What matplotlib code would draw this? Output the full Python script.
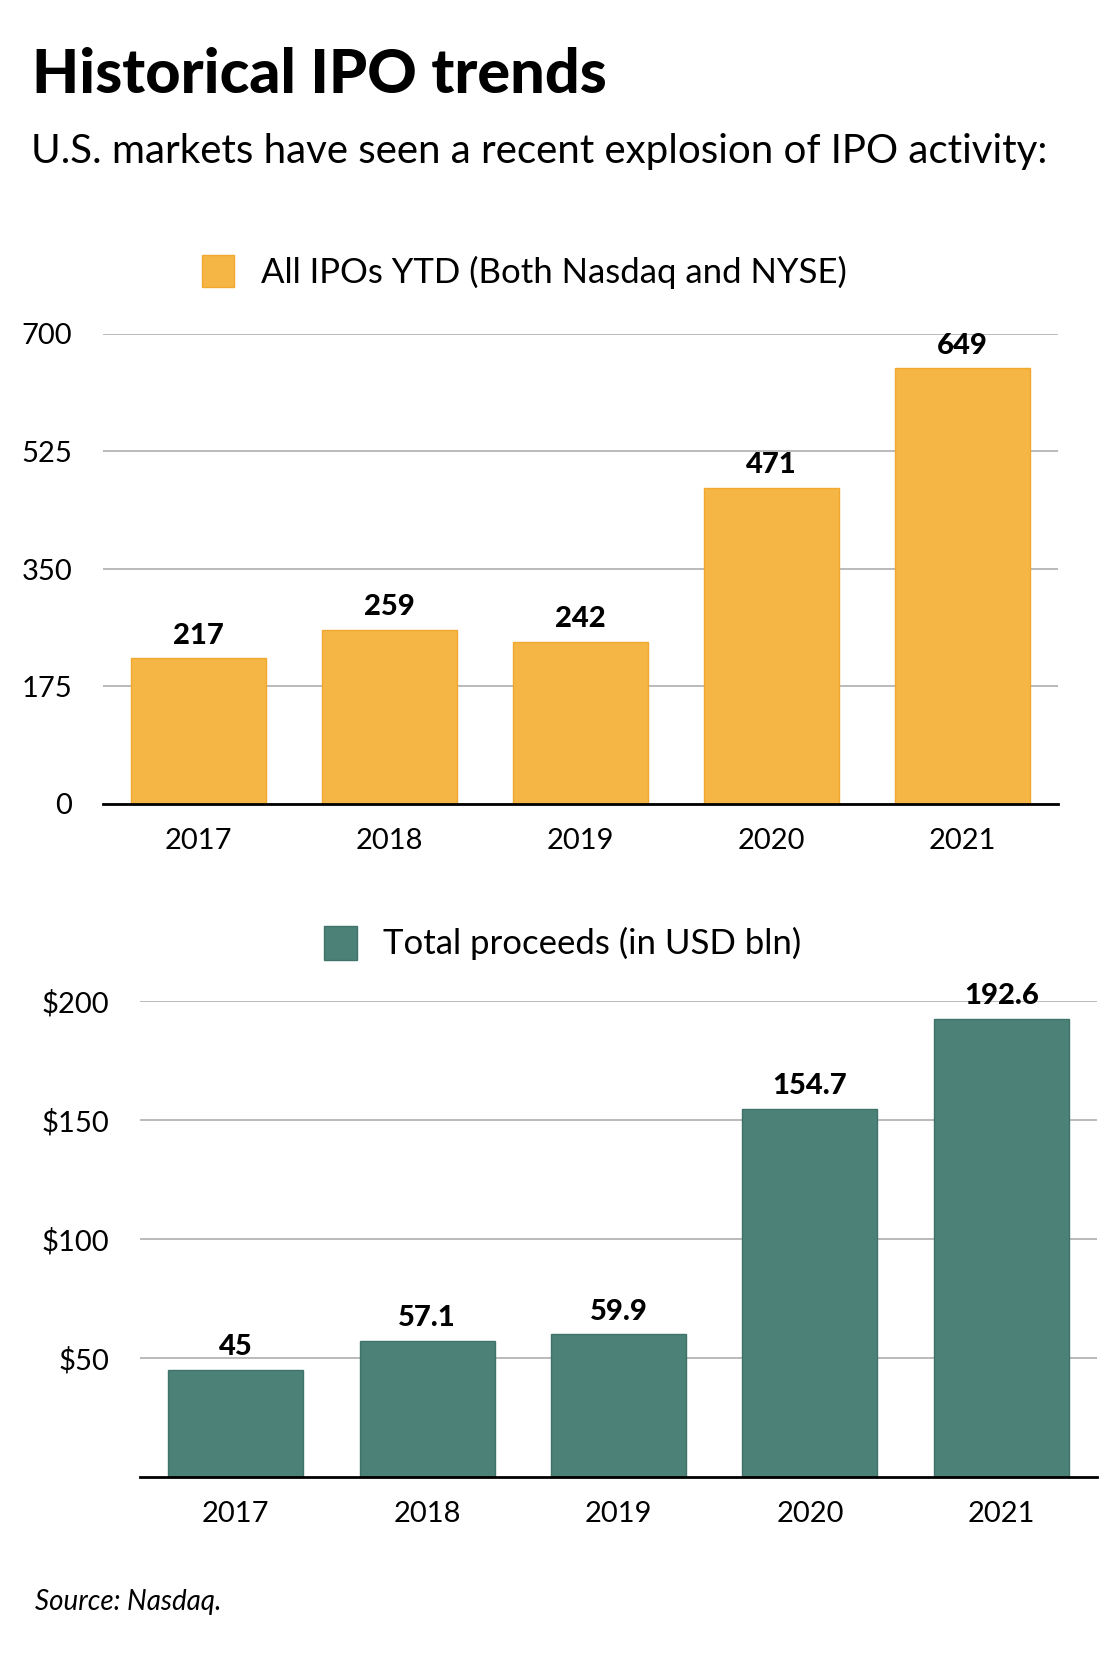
import matplotlib
matplotlib.use("Agg")
import matplotlib.pyplot as plt
from matplotlib.patches import Rectangle

plt.rcParams['font.family'] = ['Lato', 'DejaVu Sans']

years = ["2017", "2018", "2019", "2020", "2021"]
ipo_counts = [217, 259, 242, 471, 649]
proceeds = [45, 57.1, 59.9, 154.7, 192.6]
ipo_labels = ["217", "259", "242", "471", "649"]
proceeds_labels = ["45", "57.1", "59.9", "154.7", "192.6"]
top_ticks = [0, 175, 350, 525, 700]
bottom_ticks = [50, 100, 150, 200]
bottom_tick_labels = ["$50", "$100", "$150", "$200"]
title = "Historical IPO trends"
subtitle = "U.S. markets have seen a recent explosion of IPO activity:"
legend_top = "All IPOs YTD (Both Nasdaq and NYSE)"
legend_bottom = "Total proceeds (in USD bln)"
source = "Source: Nasdaq."

ORANGE = "#F6B646"
ORANGE_EDGE = "#F0A92E"
TEAL = "#4B8177"
TEAL_EDGE = "#3F7369"
GRID = "#B4B4B4"

W, H = 1120, 1667
fig = plt.figure(figsize=(W / 100, H / 100), dpi=100)


def fx(px):
    return px / W


def fy(py):
    return 1 - py / H


def style_axes(ax, ticks, ticklabels, ylim):
    ax.set_xlim(-0.5, 4.5)
    ax.set_ylim(*ylim)
    ax.set_yticks(ticks)
    ax.set_yticklabels(ticklabels)
    ax.set_xticks(range(len(years)))
    ax.set_xticklabels(years)
    for s in ["top", "right", "left"]:
        ax.spines[s].set_visible(False)
    ax.spines["bottom"].set_linewidth(2.0)
    ax.spines["bottom"].set_color("black")
    ax.spines["bottom"].set_zorder(5)
    ax.yaxis.grid(True, color=GRID, linewidth=1.3)
    ax.set_axisbelow(True)
    ax.tick_params(axis="y", length=0, pad=22, labelsize=21)
    ax.tick_params(axis="x", length=0, pad=17, labelsize=21)


# Top chart
ax1 = fig.add_axes([fx(103), fy(804), fx(1058) - fx(103), fy(334) - fy(804)])
bars1 = ax1.bar(range(len(years)), ipo_counts, width=0.705, color=ORANGE,
                edgecolor=ORANGE_EDGE, linewidth=1.0, zorder=2)
style_axes(ax1, top_ticks, [str(t) for t in top_ticks], (0, 700))
for b, lab in zip(bars1, ipo_labels):
    ax1.annotate(lab, (b.get_x() + b.get_width() / 2, b.get_height()),
                 xytext=(0, 7), textcoords="offset points", ha="center", va="bottom",
                 fontsize=21, fontweight="black", annotation_clip=False)

# Bottom chart
ax2 = fig.add_axes([fx(140), fy(1477), fx(1097) - fx(140), fy(1001) - fy(1477)])
bars2 = ax2.bar(range(len(years)), proceeds, width=0.705, color=TEAL,
                edgecolor=TEAL_EDGE, linewidth=1.0, zorder=2)
style_axes(ax2, bottom_ticks, bottom_tick_labels, (0, 200))
for b, lab in zip(bars2, proceeds_labels):
    ax2.annotate(lab, (b.get_x() + b.get_width() / 2, b.get_height()),
                 xytext=(0, 7), textcoords="offset points", ha="center", va="bottom",
                 fontsize=21, fontweight="black", annotation_clip=False, zorder=6)

# Legends (manual)
fig.patches.append(Rectangle((fx(202), fy(287)), fx(234) - fx(202), fy(255) - fy(287),
                             transform=fig.transFigure, facecolor=ORANGE,
                             edgecolor=ORANGE_EDGE, linewidth=1))
fig.text(fx(261), fy(272), legend_top, fontsize=25, va="center", ha="left")
fig.patches.append(Rectangle((fx(324), fy(960)), fx(357) - fx(324), fy(926) - fy(960),
                             transform=fig.transFigure, facecolor=TEAL,
                             edgecolor=TEAL_EDGE, linewidth=1))
fig.text(fx(383), fy(943), legend_bottom, fontsize=25, va="center", ha="left")

# Titles
fig.text(fx(32), fy(75), title, fontsize=44, fontweight="black", va="center", ha="left")
fig.text(fx(31), fy(151), subtitle, fontsize=29, va="center", ha="left")
fig.text(fx(35), fy(1602), source, fontsize=20, style="italic", va="center", ha="left")

fig.savefig("out.png", dpi=100, facecolor="white")
